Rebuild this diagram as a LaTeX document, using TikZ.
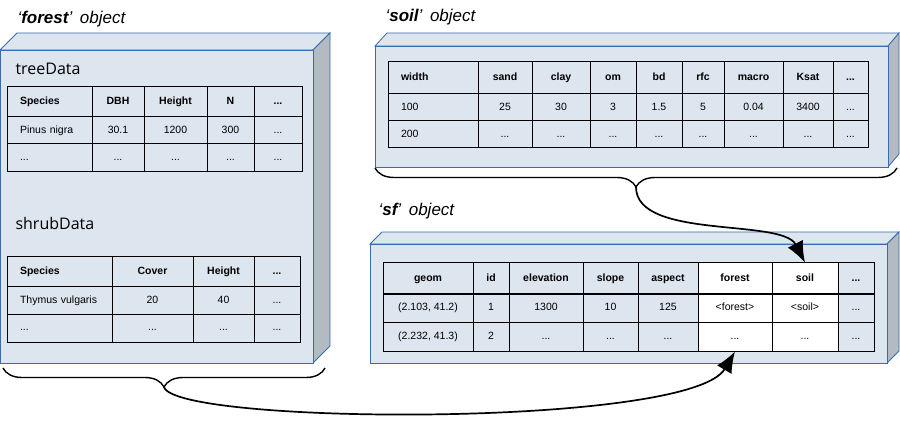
\documentclass[tikz,border=0pt]{standalone}
\usepackage{fontspec}
\setmainfont{Liberation Sans}
\newfontfamily\tablabelfont{Open Sans}
\usetikzlibrary{arrows.meta,decorations.pathreplacing}

\definecolor{boxfill}{HTML}{DDE5EF}
\definecolor{boxside}{HTML}{B3BAC2}
\definecolor{boxline}{HTML}{3A6BB0}
\newcommand{\tdots}{...}

\tikzset{
  face/.style={draw=boxline, line width=0.8pt, fill=boxfill},
  sideface/.style={face, fill=boxside},
  cell/.style={draw=black, line width=1pt, fill=boxfill, inner sep=0pt,
    text height=7.6pt, text depth=2.2pt, font=\fontsize{10.5}{12}\selectfont},
  headcell/.style={cell, font=\fontsize{10.5}{12}\selectfont\bfseries},
  firstcol/.style={align=left, inner xsep=13pt},
  objtitle/.style={anchor=base west, font=\fontsize{17}{20}\selectfont\itshape},
  tabtitle/.style={anchor=base west, font=\tablabelfont\fontsize{16}{18}\selectfont},
  bracket/.style={decorate, decoration={brace, mirror, amplitude=19pt}, line width=1.4pt},
  link/.style={-{Latex[length=21pt, width=17pt]}, line width=1.7pt}
}

\begin{document}
\begin{tikzpicture}[x=1pt, y=-1pt]
\useasboundingbox (0,0) rectangle (900,422);

% Objeto forest
\draw[face] (0,50) -- (17,33) -- (330,33) -- (313,50) -- cycle;
\draw[sideface] (313,50) -- (330,33) -- (330,346) -- (313,363) -- cycle;
\draw[face] (0,50) rectangle (313,363);
\node[objtitle] (foresttitle) at (14,24) {‘\textbf{forest}’\hspace{0.45em}object};

% treeData
\node[tabtitle] (treetitle) at (12,75) {treeData};
\node[headcell, firstcol, text width=59pt, minimum height=30pt] (tree-1-1) at (49.5,102) {Species};
\node[cell, firstcol, text width=59pt, minimum height=27pt] (tree-2-1) at (49.5,130.5) {Pinus nigra};
\node[cell, firstcol, text width=59pt, minimum height=28pt] (tree-3-1) at (49.5,158) {\tdots};
\foreach \xa/\xb/\ha/\ra [count=\c from 2] in {92/144/DBH/30.1, 144/207/Height/1200,
    207/254/N/300, 254/302/\tdots/\tdots}{
  \node[headcell, minimum width={(\xb-\xa)*1pt}, minimum height=30pt] (tree-1-\c) at ({(\xa+\xb)/2},102) {\ha};
  \node[cell, minimum width={(\xb-\xa)*1pt}, minimum height=27pt] (tree-2-\c) at ({(\xa+\xb)/2},130.5) {\ra};
  \node[cell, minimum width={(\xb-\xa)*1pt}, minimum height=28pt] (tree-3-\c) at ({(\xa+\xb)/2},158) {\tdots};
}

% shrubData
\node[tabtitle] (shrubtitle) at (12,230) {shrubData};
\node[headcell, firstcol, text width=79pt, minimum height=30pt] (shrub-1-1) at (59.5,272) {Species};
\node[cell, firstcol, text width=79pt, minimum height=27pt] (shrub-2-1) at (59.5,300.5) {Thymus vulgaris};
\node[cell, firstcol, text width=79pt, minimum height=28pt] (shrub-3-1) at (59.5,328) {\tdots};
\foreach \xa/\xb/\ha/\ra [count=\c from 2] in {112/193/Cover/20, 193/254/Height/40,
    254/300/\tdots/\tdots}{
  \node[headcell, minimum width={(\xb-\xa)*1pt}, minimum height=30pt] (shrub-1-\c) at ({(\xa+\xb)/2},272) {\ha};
  \node[cell, minimum width={(\xb-\xa)*1pt}, minimum height=27pt] (shrub-2-\c) at ({(\xa+\xb)/2},300.5) {\ra};
  \node[cell, minimum width={(\xb-\xa)*1pt}, minimum height=28pt] (shrub-3-\c) at ({(\xa+\xb)/2},328) {\tdots};
}

% Objeto soil
\draw[face] (375,46) -- (387,33) -- (899,33) -- (888,46) -- cycle;
\draw[sideface] (888,46) -- (899,33) -- (899,154) -- (888,167) -- cycle;
\draw[face] (375,46) rectangle (888,167);
\node[objtitle] (soiltitle) at (382,22) {‘\textbf{soil}’\hspace{0.45em}object};
\node[headcell, firstcol, text width=64pt, minimum height=32pt] (soil-1-1) at (433,78) {width};
\node[cell, firstcol, text width=64pt, minimum height=27pt] (soil-2-1) at (433,107.5) {100};
\node[cell, firstcol, text width=64pt, minimum height=27pt] (soil-3-1) at (433,134.5) {200};
\foreach \xa/\xb/\ha/\ra [count=\c from 2] in {478/532/sand/25, 532/590/clay/30, 590/636/om/3,
    636/682/bd/1.5, 682/724/rfc/5, 724/783/macro/0.04, 783/833/Ksat/3400, 833/868/\tdots/\tdots}{
  \node[headcell, minimum width={(\xb-\xa)*1pt}, minimum height=32pt] (soil-1-\c) at ({(\xa+\xb)/2},78) {\ha};
  \node[cell, minimum width={(\xb-\xa)*1pt}, minimum height=27pt] (soil-2-\c) at ({(\xa+\xb)/2},107.5) {\ra};
  \node[cell, minimum width={(\xb-\xa)*1pt}, minimum height=27pt] (soil-3-\c) at ({(\xa+\xb)/2},134.5) {\tdots};
}
\draw[bracket] (375,168) -- (897,168);
\coordinate (soiltip) at (636,187);

% Objeto sf
\draw[face] (370,244) -- (382,232) -- (899,232) -- (887,244) -- cycle;
\draw[sideface] (887,244) -- (899,232) -- (899,351) -- (887,363) -- cycle;
\draw[face] (370,244) rectangle (887,363);
\node[objtitle] (sftitle) at (375,216) {‘\textbf{sf}’\hspace{0.45em}object};
\foreach \xa/\xb/\col/\ha/\ra/\rb [count=\c] in {383/473/boxfill/geom/{(2.103, 41.2)}/{(2.232, 41.3)},
    473/509/boxfill/id/1/2, 509/583/boxfill/elevation/1300/\tdots, 583/638/boxfill/slope/10/\tdots,
    638/698/boxfill/aspect/125/\tdots, 698/772/white/forest/<forest>/\tdots,
    772/838/white/soil/<soil>/\tdots, 838/874/boxfill/\tdots/\tdots/\tdots}{
  \node[headcell, fill=\col, minimum width={(\xb-\xa)*1pt}, minimum height=31pt] (sf-1-\c) at ({(\xa+\xb)/2},278.5) {\ha};
  \node[cell, fill=\col, minimum width={(\xb-\xa)*1pt}, minimum height=28pt] (sf-2-\c) at ({(\xa+\xb)/2},308) {\ra};
  \node[cell, fill=\col, minimum width={(\xb-\xa)*1pt}, minimum height=29pt] (sf-3-\c) at ({(\xa+\xb)/2},336.5) {\rb};
}

% Chaves e ligacoes
\draw[bracket] (3,368) -- (325,368);
\coordinate (foresttip) at (164,387);
\draw[link] (soiltip) .. controls (636,240) and (782,218) .. (sf-1-7.north);
\draw[link] (foresttip) .. controls (175,425) and (690,428) .. (sf-3-6.south);
\end{tikzpicture}
\end{document}
